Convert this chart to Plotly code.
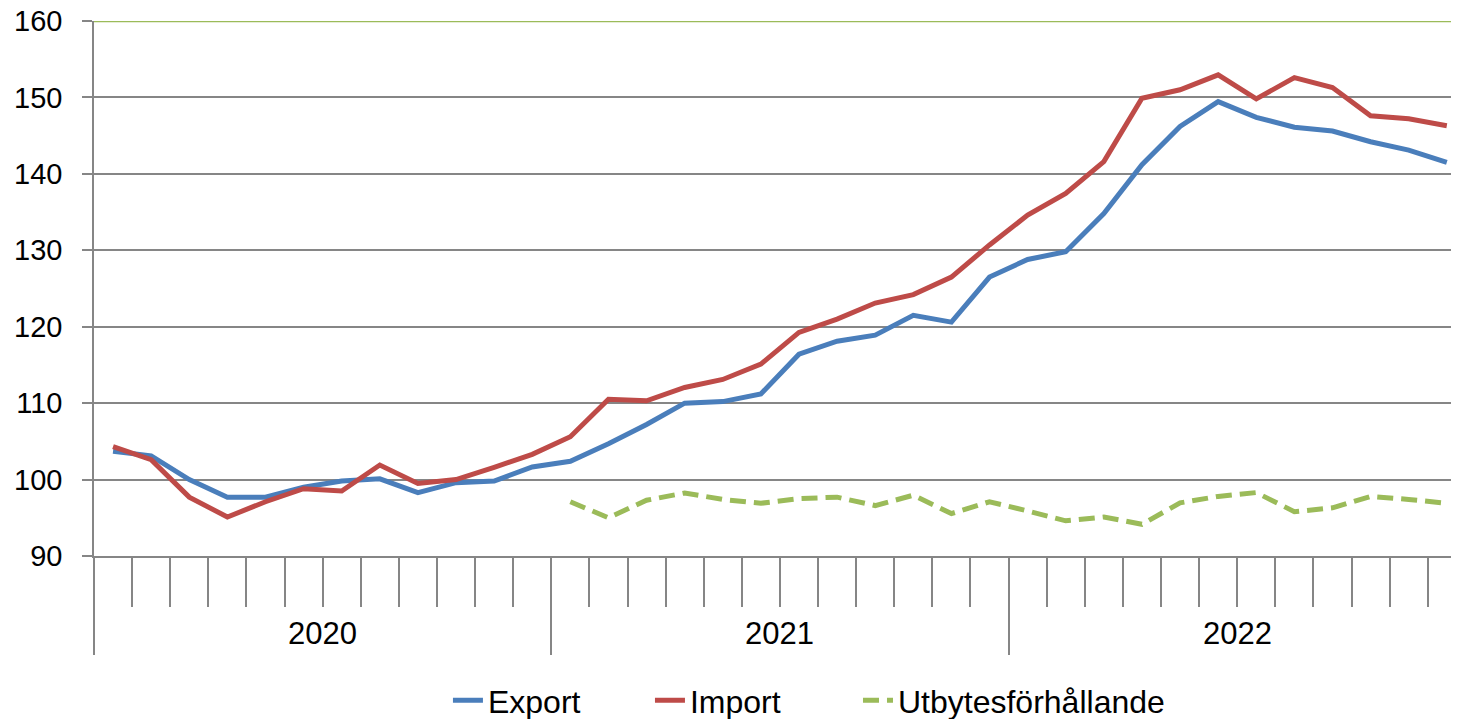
import plotly.graph_objects as go

years = ["2020", "2021", "2022"]
months_per_year = 12
n_months = 36

export_vals = [103.7, 103.1, 100.0, 97.7, 97.7, 99.0, 99.8, 100.1, 98.3, 99.6, 99.8, 101.65,
               102.4, 104.7, 107.2, 110.0, 110.2, 111.2, 116.4, 118.1, 118.9, 121.5, 120.6, 126.5,
               128.8, 129.8, 134.8, 141.2, 146.2, 149.45, 147.4, 146.1, 145.6, 144.2, 143.1, 141.5]
import_vals = [104.3, 102.6, 97.7, 95.1, 97.1, 98.8, 98.5, 101.9, 99.5, 100.0, 101.6, 103.3,
               105.6, 110.5, 110.3, 112.05, 113.1, 115.1, 119.25, 121.0, 123.1, 124.2, 126.5, 130.7,
               134.6, 137.45, 141.6, 149.9, 151.0, 152.95, 149.8, 152.6, 151.3, 147.6, 147.2, 146.3]
terms_vals = [None] * 12 + [97.1, 95.0, 97.3, 98.25, 97.4, 96.9, 97.5, 97.7, 96.6, 97.95, 95.55, 97.1,
                            95.9, 94.6, 95.1, 94.15, 96.95, 97.8, 98.3, 95.8, 96.3, 97.8, 97.4, 96.9]

x = list(range(n_months))
FONT = "Liberation Sans, Arial, sans-serif"
GRID = "#868686"

fig = go.Figure()
fig.add_trace(go.Scatter(x=x, y=export_vals, name="Export", mode="lines",
                         line=dict(color="#4A7EBB", width=5), legend="legend"))
fig.add_trace(go.Scatter(x=x, y=import_vals, name="Import", mode="lines",
                         line=dict(color="#BE4B48", width=5), legend="legend2"))
fig.add_trace(go.Scatter(x=x, y=terms_vals, name="Utbytesförhållande", mode="lines",
                         line=dict(color="#9BBB59", width=5, dash="16px,8px"), legend="legend3"))

xr = [-0.5, 35.32]
month_bounds = [i - 0.5 for i in range(n_months)]
year_bounds = [i * months_per_year - 0.5 for i in range(len(years))]
year_centers = [i * months_per_year + (months_per_year - 1) / 2 for i in range(len(years))]

leg_common = dict(orientation="h", xanchor="left", y=-0.27, yanchor="middle",
                  font=dict(size=32), itemwidth=30, bgcolor="rgba(0,0,0,0)")

# page body has an 8px default margin, so the figure is 8px smaller and shifted
fig.update_layout(
    width=1451, height=711,
    margin=dict(l=86, r=0, t=13, b=163, autoexpand=False),
    paper_bgcolor="white", plot_bgcolor="white",
    font=dict(family=FONT, size=30, color="black"),
    showlegend=True,
    legend=dict(x=0.2593, **leg_common),
    legend2=dict(x=0.4073, **leg_common),
    legend3=dict(x=0.5597, **leg_common),
    xaxis=dict(range=xr, showgrid=False, zeroline=False, showline=True, linecolor=GRID, linewidth=1.5,
               tickmode="array", tickvals=month_bounds, ticks="outside", ticklen=49,
               tickwidth=1.5, tickcolor=GRID, showticklabels=False, automargin=False),
    xaxis2=dict(range=xr, overlaying="x", anchor="y", side="bottom", showgrid=False, zeroline=False,
                showline=False, tickmode="array", tickvals=year_bounds, ticks="outside", ticklen=98,
                tickwidth=1.5, tickcolor=GRID, showticklabels=False, automargin=False),
    yaxis=dict(range=[90, 160], tickmode="array", tickvals=[90, 100, 110, 120, 130, 140, 150, 160],
               showgrid=True, gridcolor=GRID, gridwidth=1.5, zeroline=False,
               showline=True, linecolor=GRID, linewidth=1.5,
               ticks="outside", ticklen=10, tickwidth=1.5, tickcolor=GRID,
               tickfont=dict(size=29), ticklabelstandoff=14, ticklabeloverflow="allow",
               automargin=False),
)
# dummy trace to activate xaxis2
fig.add_trace(go.Scatter(x=[xr[0]], y=[None], xaxis="x2", showlegend=False, hoverinfo="skip"))

fig.add_shape(type="line", xref="paper", yref="y", x0=0, x1=1, y0=160, y1=160,
              line=dict(color="#9BBB59", width=2.5))

for yc, yl in zip(year_centers, years):
    fig.add_annotation(x=yc, y=-0.145, xref="x", yref="paper", text=yl, showarrow=False,
                       font=dict(size=31), yanchor="middle")

fig.write_html("out.html")
